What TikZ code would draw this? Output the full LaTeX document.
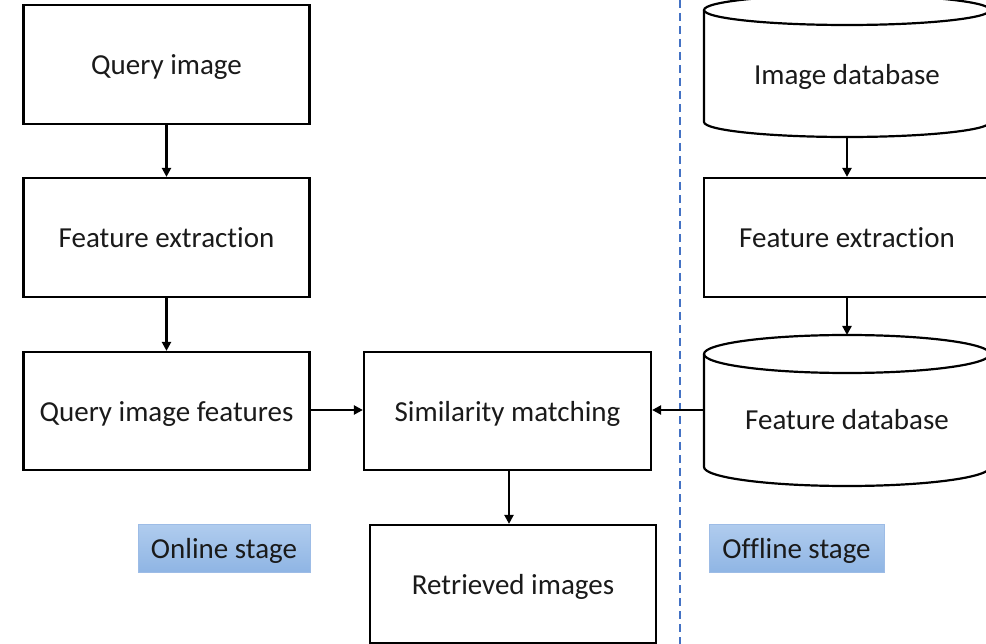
\documentclass[tikz,border=0pt]{standalone}
\usepackage{fontspec}
\setmainfont{Carlito}[Ligatures=NoCommon]
\usetikzlibrary{arrows.meta}
\definecolor{dashblue}{HTML}{4472C4}
\definecolor{lbltop}{HTML}{B0CCEE}
\definecolor{lblbot}{HTML}{8FB5E4}
\definecolor{lblborder}{HTML}{9DBCE6}
\definecolor{txt}{HTML}{1A1A1A}
\tikzset{
  stepbox/.style={draw=black, line width=2.2pt, fill=white, minimum width=286pt, minimum height=119pt, inner sep=0pt, text=txt, text height=20pt, text depth=0pt},
  lbl/.style={draw=lblborder, line width=1pt, top color=lbltop, bottom color=lblbot, minimum height=48pt, inner sep=0pt, text=txt, text height=20pt, text depth=0pt},
  txtnode/.style={inner sep=0pt, text=txt, text height=20pt, text depth=0pt},
  arr/.style={line width=2.2pt, -{Triangle[length=9pt,width=9pt]}},
  cyl/.style={draw=black, line width=2.2pt},
  dashline/.style={draw=dashblue, line width=2pt, dash pattern=on 8pt off 5pt}
}
\begin{document}
\begin{tikzpicture}[x=1pt,y=-1pt, font=\fontsize{29}{34}\selectfont]
\useasboundingbox (0,0) rectangle (986,644);
% dashed separator
\coordinate (dtop) at (680,0);
\coordinate (dbot) at (680,644);
\draw[dashline] (dtop) -- (dbot);
% left column
\node[stepbox] (qi) at (166.5,64.5) {Query image};
\node[stepbox] (fel) at (166.5,237.5) {Feature extraction};
\node[stepbox, minimum height=118pt] (qif) at (166.5,411) {Query image features};
\node[stepbox, minimum width=287pt, minimum height=118pt] (sm) at (507.5,411) {Similarity matching};
\node[stepbox, minimum height=118pt] (ri) at (513,584) {Retrieved images};
% right column
\node[stepbox] (fer) at (847,237.5) {Feature extraction};
% image database cylinder
\fill[white] (704,10) -- (704,122) arc[start angle=180,end angle=360,x radius=143pt,y radius=15pt] -- (990,10) -- cycle;
\draw[cyl] (704,10) -- (704,122) arc[start angle=180,end angle=360,x radius=143pt,y radius=15pt] -- (990,10);
\draw[cyl] (847,10) ellipse[x radius=143pt, y radius=15pt];
\node[txtnode] (imgdb) at (847,75) {Image database};
\coordinate (imgdbbot) at (847,137);
% feature database cylinder
\draw[cyl] (704,354) -- (704,467) arc[start angle=180,end angle=360,x radius=143pt,y radius=19pt] -- (990,354);
\draw[cyl] (847,354) ellipse[x radius=143pt, y radius=19pt];
\node[txtnode] (fdb) at (847,420) {Feature database};
\coordinate (fdbtop) at (847,335);
\coordinate (fdbleft) at (704,410);
% labels
\node[lbl, minimum width=172pt] (online) at (224,548) {Online stage};
\node[lbl, minimum width=175pt] (offline) at (796.5,548.5) {Offline stage};
% connectors
\draw[arr] (qi) -- (fel);
\draw[arr] (fel) -- (qif);
\draw[arr] (qif.east |- 0,410) -- (sm.west |- 0,410);
\draw[arr] (fdbleft) -- (sm.east |- fdbleft);
\draw[arr] (sm.south -| 509,0) -- (ri.north -| 509,0);
\draw[arr] (imgdbbot) -- (fer.north);
\draw[arr] (fer.south) -- (fdbtop);
\end{tikzpicture}
\end{document}
